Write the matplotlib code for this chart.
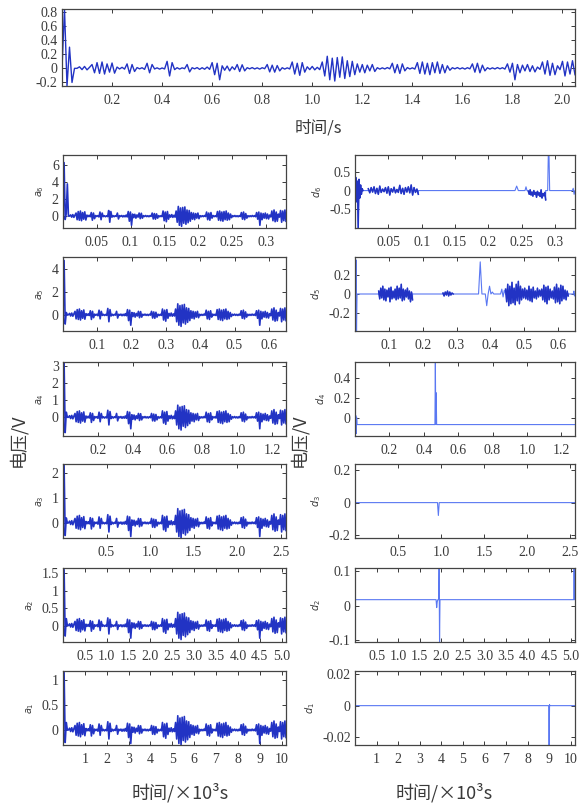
import numpy as np
import matplotlib
matplotlib.use('Agg')
import matplotlib.pyplot as plt

plt.rcParams['font.family'] = ['Liberation Serif', 'DejaVu Serif']
CJK = ['Noto Sans CJK SC', 'DejaVu Sans']

# ---------------- data ----------------
# shared shape of the approximation signals (hand-read, normalised)
wave = [
    0.0, 0.12, -0.1, 0.15, -0.12, 0.08, 0.3, -0.35, 0.45, -0.4, 0.5, -0.45, 0.35, -0.3, 0.42, -0.38, 0.1, -0.05, 0.08, -0.06,
    0.35, -0.4, 0.3, -0.25, 0.06, -0.04, 0.05, -0.08, 0.4, -0.35, 0.3, -0.05, 0.04, -0.06, 0.03, -0.05, 0.55, -0.6, 0.45, -0.1,
    0.05, -0.06, 0.04, -0.03, 0.3, -0.28, 0.05, -0.04, 0.06, -0.08, 0.05, -0.07, 0.1, -0.08, 0.45, -0.5, 0.4, -0.9, 0.2, -0.15,
    0.18, -0.2, 0.12, -0.1, 0.3, -0.25, 0.28, -0.2, 0.05, -0.04, 0.06, -0.05, 0.04, -0.06, 0.05, -0.03, 0.3, -0.28, 0.25, -0.3,
    0.22, -0.2, 0.05, -0.06, 0.04, -0.05, 0.5, -0.45, 0.4, -0.55, 0.45, -0.3, 0.12, -0.1, 0.15, -0.12, 0.08, -0.1, 0.5, -0.6,
    0.95, -0.9, 0.8, -1.0, 0.85, -0.7, 0.9, -0.8, 0.6, -0.65, 0.55, -0.5, 0.35, -0.3, 0.3, -0.35, 0.25, -0.2, 0.3, -0.25,
    0.05, -0.06, 0.04, -0.05, 0.06, -0.04, 0.4, -0.35, 0.3, -0.4, 0.35, -0.2, 0.06, -0.05, 0.04, -0.06, 0.45, -0.4, 0.5, -0.45,
    0.4, -0.5, 0.45, -0.35, 0.5, -0.4, 0.3, -0.35, 0.2, -0.15, 0.05, -0.04, 0.06, -0.05, 0.04, -0.06, 0.05, -0.04, 0.35, -0.3,
    0.4, -0.35, 0.25, -0.2, 0.05, -0.06, 0.04, -0.05, 0.06, -0.04, 0.05, -0.06, 0.35, -0.3, 0.4, -0.9, 0.3, -0.35, 0.25, -0.2,
    0.3, -0.25, 0.2, -0.28, 0.1, -0.08, 0.5, -0.45, 0.6, -0.55, 0.4, -0.5, 0.2, -0.1, 0.55, -0.6, 0.5, -0.45, 0.6, -0.5,
]

# top panel (original signal)
top_xmax = 2.05
top_scale = 0.18
top_spike = [0.0, 0.84, -0.25, 0.3, -0.2, 0.0]
top_ylim = (-0.25, 0.84)
top_yticks = [-0.2, 0, 0.2, 0.4, 0.6, 0.8]
top_yticklabels = ['-0.2', '0', '0.2', '0.4', '0.6', '0.8']
top_xticks = [0.2, 0.4, 0.6, 0.8, 1.0, 1.2, 1.4, 1.6, 1.8, 2.0]
top_xticklabels = ['0.2', '0.4', '0.6', '0.8', '1.0', '1.2', '1.4', '1.6', '1.8', '2.0']

# approximation panels a6..a1
a_names = ['a_6', 'a_5', 'a_4', 'a_3', 'a_2', 'a_1']
a_xmax = [0.33, 0.65, 1.28, 2.56, 5.1, 10.2]
a_scale = [1.2, 1.0, 0.75, 0.6, 0.4, 0.3]
a_spike = [
    [0.0, 6.3, -0.4, 0.3, 3.8, 0.0],
    [0.0, 4.7, -0.8, 0.2, 0.0],
    [0.0, 3.25, -0.9, 0.3, 0.0],
    [0.0, 2.3, -0.5, 0.2, 0.0],
    [0.0, 1.6, -0.3, 0.2, 0.0],
    [0.0, 1.15, -0.25, 0.15, 0.0],
]
a_ylim = [(-1.4, 7.2), (-1.4, 5.0), (-1.1, 3.25), (-0.6, 2.35), (-0.47, 1.65), (-0.3, 1.18)]
a_yticks = [[0, 2, 4, 6], [0, 2, 4], [0, 1, 2, 3], [0, 1, 2], [0, 0.5, 1, 1.5], [0, 0.5, 1]]
a_yticklabels = [['0', '2', '4', '6'], ['0', '2', '4'], ['0', '1', '2', '3'], ['0', '1', '2'],
                 ['0', '0.5', '1', '1.5'], ['0', '0.5', '1']]

# x ticks shared by row
row_xticks = [
    [0.05, 0.1, 0.15, 0.2, 0.25, 0.3],
    [0.1, 0.2, 0.3, 0.4, 0.5, 0.6],
    [0.2, 0.4, 0.6, 0.8, 1.0, 1.2],
    [0.5, 1.0, 1.5, 2.0, 2.5],
    [0.5, 1.0, 1.5, 2.0, 2.5, 3.0, 3.5, 4.0, 4.5, 5.0],
    [1, 2, 3, 4, 5, 6, 7, 8, 9, 10],
]
row_xticklabels = [
    ['0.05', '0.1', '0.15', '0.2', '0.25', '0.3'],
    ['0.1', '0.2', '0.3', '0.4', '0.5', '0.6'],
    ['0.2', '0.4', '0.6', '0.8', '1.0', '1.2'],
    ['0.5', '1.0', '1.5', '2.0', '2.5'],
    ['0.5', '1.0', '1.5', '2.0', '2.5', '3.0', '3.5', '4.0', '4.5', '5.0'],
    ['1', '2', '3', '4', '5', '6', '7', '8', '9', '10'],
]

# detail panels d6..d1 : (start, end, values) bursts on a flat baseline
d_names = ['d_6', 'd_5', 'd_4', 'd_3', 'd_2', 'd_1']
d_xmax = [0.33, 0.65, 1.28, 2.56, 5.1, 10.2]
d_base = [0.0, 0.0, -0.07, 0.0, 0.018, 0.0]
d6_burst1 = [0.05, -0.06, 0.08, -0.04, 0.1, -0.08, 0.06, -0.1, 0.12, -0.05, 0.04, -0.03, 0.08, -0.07, 0.1, -0.12,
             0.05, -0.04, 0.09, -0.06, 0.03, -0.05, 0.14, -0.08, 0.06, -0.1, 0.08, -0.04, 0.1, -0.06, 0.15, -0.12,
             0.08, -0.05, 0.04, -0.1]
d6_burst2 = [-0.02, -0.1, 0.02, -0.12, -0.04, -0.15, 0.0, -0.1, -0.05, -0.18, -0.02, -0.12, -0.06, -0.16, 0.02,
             -0.2, -0.08, -0.14, -0.05, -0.25]
d5_burst1 = [0.03, -0.05, 0.06, -0.04, 0.08, -0.06, 0.05, -0.07, 0.04, -0.03, 0.06, -0.08, 0.07, -0.05, 0.03, -0.04,
             0.05, -0.06, 0.08, -0.05, 0.06, -0.04, 0.1, -0.07, 0.05, -0.06, 0.04, -0.03, 0.06, -0.05, 0.03, -0.08,
             0.02, -0.06]
d5_burst2 = [0.01, -0.02, 0.02, -0.01, 0.03, -0.02, 0.02, -0.01, 0.01, 0.0]
d5_burst3 = [0.05, -0.08, 0.1, -0.12, 0.08, -0.1, 0.12, -0.09, 0.06, -0.11, 0.1, -0.07, 0.13, -0.1, 0.08, -0.06,
             0.05, -0.04, 0.06, -0.05, 0.04, -0.06, 0.08, -0.07, 0.05, -0.08, 0.07, -0.04, 0.03, -0.05, 0.06, -0.03,
             0.04, -0.02, 0.05, -0.06, 0.09, -0.08, 0.07, -0.1, 0.08, -0.06, 0.05, -0.04, 0.03, -0.05, 0.07, -0.09,
             0.1, -0.08, 0.06, -0.1, 0.09, -0.07, 0.08, -0.05, 0.04, -0.06, 0.03, -0.02]
d_segments = [
    [(0.0, 0.012, [0.0, 0.35, -0.3, 0.25, -1.0, 0.3, -0.2, 0.15, -0.1, 0.05, 0.0]),
     (0.02, 0.095, d6_burst1),
     (0.24, 0.245, [0.0, 0.12, 0.0]),
     (0.255, 0.258, [0.0, 0.1, 0.0]),
     (0.26, 0.286, d6_burst2),
     (0.289, 0.292, [0.0, 1.0, 0.95, 0.0]),
     (0.326, 0.33, [0.0, 0.06, -0.1, 0.0])],
    [(0.0, 0.006, [0.38, -0.38, 0.35, -0.38, 0.0]),
     (0.07, 0.17, d5_burst1),
     (0.26, 0.29, d5_burst2),
     (0.365, 0.375, [0.0, 0.33, 0.0]),
     (0.385, 0.41, [0.0, -0.12, 0.0, 0.08, 0.0, 0.02, 0.0]),
     (0.43, 0.445, [0.0, 0.05, -0.03, 0.04, 0.0]),
     (0.445, 0.63, d5_burst3),
     (0.645, 0.65, [0.0, 0.03, -0.02, 0.0])],
    [(0.0, 0.012, [0.05, -0.18, 0.02, -0.16, 0.0, -0.07]),
     (0.465, 0.475, [-0.07, 0.56, -0.07, 0.25, -0.07])],
    [(0.96, 0.98, [0.0, -0.08, 0.0])],
    [(1.88, 1.92, [0.018, -0.005, 0.012, 0.018]),
     (1.94, 1.97, [0.018, 0.11, -0.105, 0.018]),
     (5.07, 5.09, [0.018, 0.11, 0.018])],
    [(8.98, 9.02, [0.0, -0.025, 0.0006])],
]
d_ylim = [(-1.0, 0.95), (-0.38, 0.38), (-0.185, 0.56), (-0.22, 0.24), (-0.105, 0.11), (-0.025, 0.022)]
d_yticks = [[-0.5, 0, 0.5], [-0.2, 0, 0.2], [0, 0.2, 0.4], [-0.2, 0, 0.2], [-0.1, 0, 0.1], [-0.02, 0, 0.02]]
d_yticklabels = [['-0.5', '0', '0.5'], ['-0.2', '0', '0.2'], ['0', '0.2', '0.4'], ['-0.2', '0', '0.2'],
                 ['-0.1', '0', '0.1'], ['-0.02', '0', '0.02']]

# ---------------- drawing ----------------
W, H = 581, 805
fig = plt.figure(figsize=(W / 100, H / 100), dpi=100)
DARK = '#2233c4'
LIGHT = '#5a78f2'
TXT = '#3a3a3a'


def px_axes(x0, y0, x1, y1):
    return fig.add_axes([x0 / W, 1 - y1 / H, (x1 - x0) / W, (y1 - y0) / H])


def style(ax):
    for s in ax.spines.values():
        s.set_color('#444444')
        s.set_linewidth(0.9)
    ax.tick_params(direction='in', top=True, right=True, length=3, width=0.7,
                   labelsize=10, colors=TXT, pad=3)


def build(segments, baseline, xmax):
    xs, ys = [0.0], [baseline]
    for t0, t1, vals in segments:
        xs.append(t0)
        ys.append(baseline)
        xs.extend(np.linspace(t0, t1, len(vals)))
        ys.extend(vals)
        xs.append(t1)
        ys.append(baseline)
    xs.append(xmax)
    ys.append(baseline)
    return np.array(xs), np.array(ys)


# top panel
ax = px_axes(62, 9, 575, 86)
series = np.concatenate([top_spike, np.array(wave) * top_scale])
ax.plot(np.linspace(0, top_xmax, len(series)), series, color=DARK, lw=1.0)
ax.set_xlim(0, top_xmax)
ax.set_ylim(*top_ylim)
ax.set_xticks(top_xticks)
ax.set_xticklabels(top_xticklabels)
ax.set_yticks(top_yticks)
ax.set_yticklabels(top_yticklabels)
style(ax)
ax.tick_params(axis='x', pad=6)
fig.text(318 / W, 1 - 128 / H, '时间/s', family=CJK, fontsize=12, ha='center', va='center', color=TXT)

rows_y = [(155, 228), (257, 331), (362, 436), (464, 538), (568, 642), (671, 745)]

for i, (y0, y1) in enumerate(rows_y):
    # left: approximation
    ax = px_axes(63, y0, 286, y1)
    series = np.concatenate([a_spike[i], np.array(wave) * a_scale[i]])
    ax.plot(np.linspace(0, a_xmax[i], len(series)), series, color=DARK, lw=1.2)
    ax.set_xlim(0, a_xmax[i])
    ax.set_ylim(*a_ylim[i])
    ax.set_xticks(row_xticks[i])
    ax.set_xticklabels(row_xticklabels[i])
    ax.set_yticks(a_yticks[i])
    ax.set_yticklabels(a_yticklabels[i])
    style(ax)
    ax.tick_params(axis='x', pad=6)
    ax.set_ylabel('$' + a_names[i] + '$', fontsize=7, color=TXT, labelpad=4)

    # right: detail
    ax = px_axes(355, y0, 575, y1)
    xs, ys = build(d_segments[i], d_base[i], d_xmax[i])
    ax.plot(xs, ys, color=LIGHT, lw=0.8)
    for t0, t1, vals in d_segments[i]:
        if len(vals) > 8:
            ax.plot(np.linspace(t0, t1, len(vals)), vals, color=DARK, lw=1.1)
    ax.set_xlim(0, d_xmax[i])
    ax.set_ylim(*d_ylim[i])
    ax.set_xticks(row_xticks[i])
    ax.set_xticklabels(row_xticklabels[i])
    ax.set_yticks(d_yticks[i])
    ax.set_yticklabels(d_yticklabels[i])
    style(ax)
    ax.tick_params(axis='x', pad=6)
    ax.set_ylabel('$' + d_names[i] + '$', fontsize=7, color=TXT, labelpad=4)

fig.text(18 / W, 1 - 440 / H, '电压/V', family=CJK, fontsize=13, rotation=90,
         ha='center', va='center', color=TXT)
fig.text(299 / W, 1 - 440 / H, '电压/V', family=CJK, fontsize=13, rotation=90,
         ha='center', va='center', color=TXT)
fig.text(180 / W, 1 - 793 / H, '时间/×10³s', family=CJK, fontsize=13, ha='center', va='center', color=TXT)
fig.text(444 / W, 1 - 793 / H, '时间/×10³s', family=CJK, fontsize=13, ha='center', va='center', color=TXT)

fig.savefig('out.png', dpi=100, facecolor='white')
